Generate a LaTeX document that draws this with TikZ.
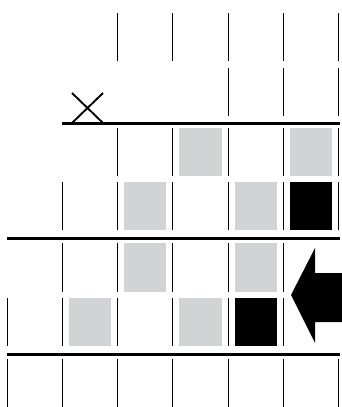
\documentclass[tikz,border=0pt]{standalone}
\definecolor{cellgray}{RGB}{209,211,212}
\tikzset{
  tick/.style={line width=1pt, black},
  rule/.style={line width=3pt, black},
  graycell/.style={fill=cellgray, draw=none},
  blackcell/.style={fill=black, draw=none},
  cross/.style={line width=1.9pt, black},
  bigarrow/.style={fill=black, draw=none}
}
\begin{document}
\begin{tikzpicture}[x=1pt,y=-1pt]
\useasboundingbox (0,0) rectangle (342,407);
% vertical ticks: row top, row bottom, first index, last index
\foreach \top/\bot/\a/\b in {13/61/2/6, 68/116/4/6, 128/176/2/6, 182/230/1/6, 243/292/1/5, 298/346/0/5, 359/407/0/6}{
  \foreach \i in {\a,...,\b}{
    \draw[tick] ({7+55.33*\i},\top) -- ({7+55.33*\i},\bot);
  }
}
% gray cells: row top, row bottom, cell index
\foreach \top/\bot/\c in {128/176/3, 128/176/5, 182/230/2, 182/230/4, 243/292/2, 243/292/4, 298/346/1, 298/346/3}{
  \fill[graycell] ({7+55.33*\c+6.5},\top) rectangle ({7+55.33*(\c+1)-6.5},\bot);
}
% black cells
\foreach \top/\bot/\c in {182/230/5, 298/346/4}{
  \fill[blackcell] ({7+55.33*\c+6.5},\top) rectangle ({7+55.33*(\c+1)-6.5},\bot);
}
% horizontal rules
\draw[rule] (62,123) -- (340,123);
\draw[rule] (7,238) -- (340,238);
\draw[rule] (7,354) -- (340,354);
% X mark
\draw[cross] (72,93) -- (103,123);
\draw[cross] (103,93) -- (72,123);
% big arrow
\fill[bigarrow] (291,295) -- (315,248) -- (315,273) -- (342,273) -- (342,322) -- (315,322) -- (315,343) -- cycle;
\end{tikzpicture}
\end{document}
